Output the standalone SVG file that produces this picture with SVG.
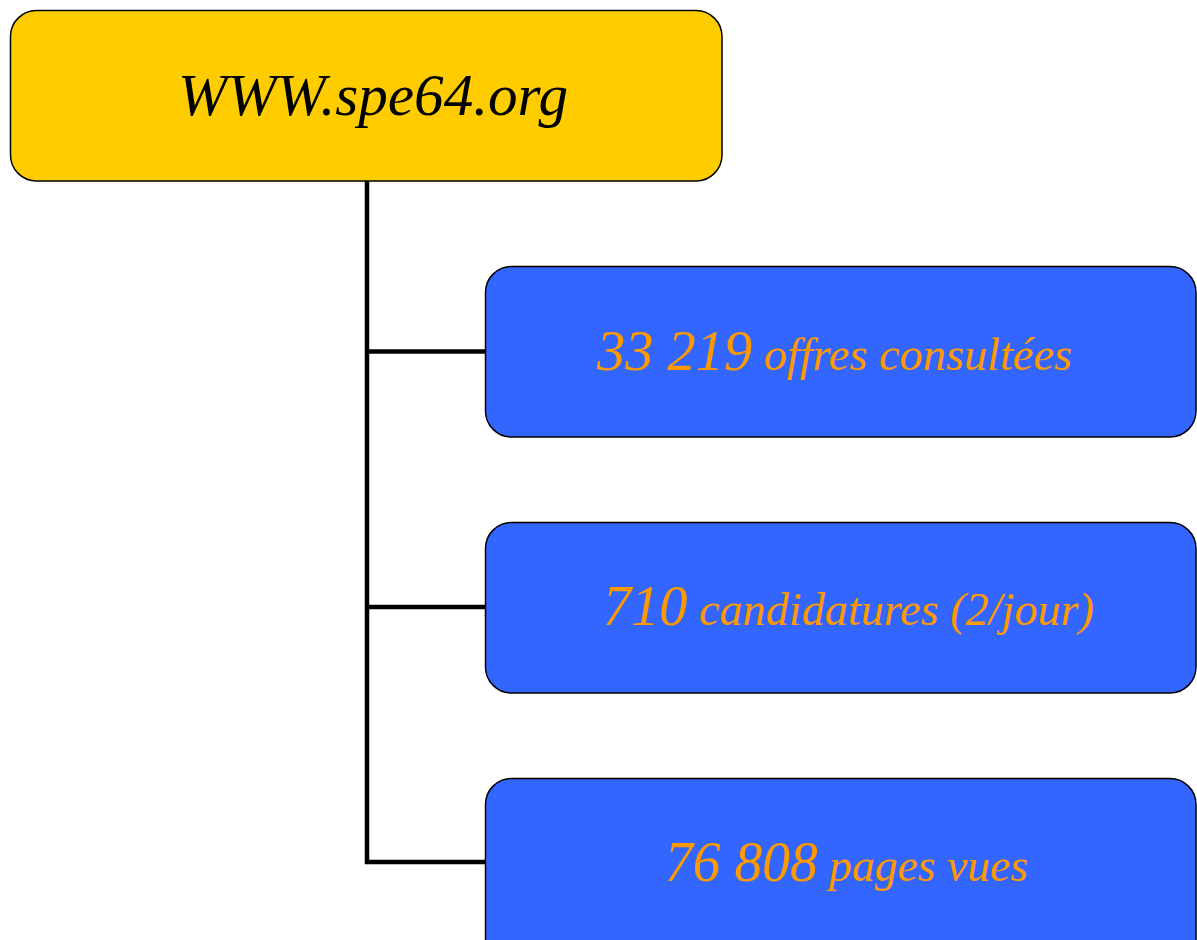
<svg xmlns="http://www.w3.org/2000/svg" width="1197" height="940" viewBox="0 0 1197 940">
  <style>
    .box { stroke: #000; stroke-width: 1.5; }
    .root { fill: #FFCC00; }
    .leaf { fill: #3366FF; }
    .t { font-family: "Liberation Serif", "DejaVu Serif", serif; font-style: italic; }
    .rt { fill: #000; font-size: 60px; }
    .lt { fill: #FF9900; font-size: 46px; }
    .num { font-size: 56px; }
    .conn { fill: none; stroke: #000; stroke-width: 4.5; stroke-linejoin: miter; }
  </style>
  <rect width="1197" height="940" fill="#FFFFFF"/>
  <g id="connectors">
    <path class="conn" d="M367 181 V862 H486"/>
    <path class="conn" d="M367 351.5 H486"/>
    <path class="conn" d="M367 607 H486"/>
  </g>
  <g id="node-root">
    <rect class="box root" x="10.5" y="10.5" width="711.5" height="170.5" rx="26" ry="26"/>
    <text class="t rt" x="178" y="115" textLength="390" lengthAdjust="spacingAndGlyphs">WWW.spe64.org</text>
  </g>
  <g id="node-offres">
    <rect class="box leaf" x="485.5" y="266.5" width="710.5" height="170.5" rx="26" ry="26"/>
    <text class="t lt" x="597" y="370" textLength="475" lengthAdjust="spacingAndGlyphs"><tspan class="num">33 219</tspan> offres consultées</text>
  </g>
  <g id="node-candidatures">
    <rect class="box leaf" x="485.5" y="522.5" width="710.5" height="170.5" rx="26" ry="26"/>
    <text class="t lt" x="603" y="625" textLength="491" lengthAdjust="spacingAndGlyphs"><tspan class="num">710</tspan> candidatures (2/jour)</text>
  </g>
  <g id="node-pages">
    <rect class="box leaf" x="485.5" y="778.5" width="710.5" height="190" rx="26" ry="26"/>
    <text class="t lt" x="665" y="881" textLength="363" lengthAdjust="spacingAndGlyphs"><tspan class="num">76 808</tspan> pages vues</text>
  </g>
</svg>
